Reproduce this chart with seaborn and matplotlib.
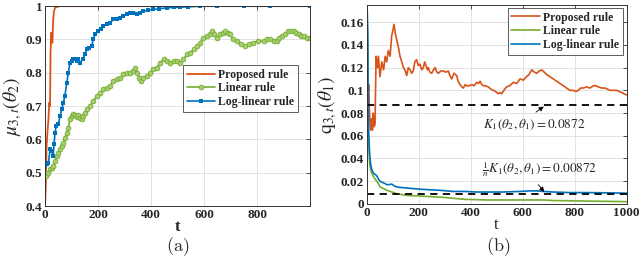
import matplotlib
matplotlib.use("Agg")
from matplotlib import pyplot as plt
import numpy as np
import pandas as pd
import seaborn as sns

# ---- panel (a): mu_{3,t}(theta_2) ----
t_prop_a = [0, 3, 6, 10, 13, 16, 19, 21, 23, 25,
            28, 31, 34, 38, 45, 57, 80, 150, 300, 600, 999]
prop_a = [0.40, 0.46, 0.58, 0.63, 0.66, 0.71, 0.70, 0.86, 0.92, 0.90,
          0.89, 0.96, 0.985, 0.995, 0.998, 1.0, 1.0, 1.0, 1.0, 1.0, 1.0]

t_lin_a = [0, 5, 10, 18, 25, 31, 38, 44, 50, 57,
           63, 69, 75, 82, 88, 94, 100, 107, 114, 120,
           126, 132, 139, 145, 152, 160, 170, 182, 195, 208,
           220, 233, 245, 258, 270, 283, 296, 308, 320, 330,
           340, 348, 355, 362, 370, 384, 396, 409, 422, 434,
           447, 460, 472, 485, 497, 509, 522, 535, 547, 560,
           572, 585, 597, 610, 622, 629, 639, 648, 660, 672,
           679, 690, 698, 710, 723, 738, 755, 770, 786, 805,
           824, 838, 849, 862, 874, 883, 893, 905, 918, 928,
           937, 946, 956, 965, 975, 987, 999]
lin_a = [0.50, 0.49, 0.50, 0.51, 0.515, 0.52, 0.535, 0.55, 0.56, 0.57,
         0.58, 0.59, 0.605, 0.62, 0.635, 0.66, 0.67, 0.675, 0.672, 0.668,
         0.672, 0.665, 0.662, 0.67, 0.68, 0.69, 0.70, 0.715, 0.73, 0.74,
         0.75, 0.755, 0.76, 0.775, 0.78, 0.785, 0.795, 0.80, 0.80, 0.805,
         0.815, 0.80, 0.785, 0.775, 0.785, 0.79, 0.80, 0.81, 0.815, 0.83,
         0.84, 0.835, 0.83, 0.835, 0.835, 0.83, 0.84, 0.855, 0.86, 0.87,
         0.88, 0.89, 0.905, 0.91, 0.915, 0.925, 0.915, 0.905, 0.915, 0.92,
         0.925, 0.92, 0.915, 0.90, 0.895, 0.885, 0.88, 0.885, 0.89, 0.895,
         0.895, 0.90, 0.90, 0.895, 0.895, 0.905, 0.91, 0.915, 0.925, 0.925,
         0.925, 0.92, 0.915, 0.91, 0.91, 0.905, 0.905]

t_log_a = [0, 6, 13, 19, 25, 31, 34, 38, 42, 50,
           57, 63, 69, 75, 82, 88, 94, 100, 107, 113,
           120, 126, 132, 142, 150, 157, 166, 176, 182, 189,
           201, 210, 220, 233, 245, 258, 270, 283, 296, 308,
           320, 333, 346, 358, 371, 390, 409, 430, 459, 485,
           509, 540, 585, 650, 750, 850, 999]
log_a = [0.52, 0.525, 0.53, 0.57, 0.565, 0.55, 0.585, 0.62, 0.64, 0.645,
         0.67, 0.69, 0.71, 0.73, 0.77, 0.80, 0.83, 0.835, 0.84, 0.84,
         0.835, 0.84, 0.83, 0.84, 0.855, 0.87, 0.875, 0.88, 0.90, 0.915,
         0.925, 0.93, 0.94, 0.945, 0.95, 0.96, 0.962, 0.965, 0.97, 0.975,
         0.978, 0.98, 0.975, 0.98, 0.985, 0.988, 0.99, 0.992, 0.995, 0.996,
         0.997, 0.998, 1.0, 1.0, 1.0, 1.0, 1.0]

# ---- panel (b): q_{3,t}(theta_1) ----
t_prop_b = [0, 4, 8, 10, 13, 16, 19, 22, 25, 28,
            32, 36, 41, 45, 51, 58, 65, 71, 77, 83,
            90, 96, 101, 105, 110, 115, 122, 128, 135, 141,
            147, 154, 160, 167, 173, 179, 185, 192, 198, 205,
            212, 218, 223, 228, 233, 237, 243, 250, 257, 263,
            270, 276, 285, 295, 305, 314, 320, 327, 336, 346,
            352, 359, 366, 372, 379, 385, 395, 404, 414, 423,
            430, 436, 443, 449, 458, 468, 478, 487, 496, 506,
            512, 519, 528, 538, 550, 564, 577, 590, 603, 615,
            625, 635, 645, 654, 664, 673, 683, 692, 705, 718,
            731, 744, 757, 769, 782, 795, 805, 814, 824, 833,
            846, 859, 866, 872, 882, 891, 904, 917, 927, 936,
            949, 962, 972, 981, 990, 1000]
prop_b = [0.10, 0.095, 0.105, 0.085, 0.07, 0.065, 0.075, 0.065, 0.08, 0.068,
          0.07, 0.13, 0.12, 0.13, 0.112, 0.125, 0.118, 0.13, 0.125, 0.135,
          0.13, 0.148, 0.153, 0.158, 0.15, 0.145, 0.138, 0.13, 0.125, 0.12,
          0.118, 0.113, 0.12, 0.118, 0.115, 0.117, 0.125, 0.127, 0.122, 0.123,
          0.118, 0.12, 0.125, 0.122, 0.118, 0.12, 0.116, 0.115, 0.118, 0.12,
          0.116, 0.115, 0.117, 0.117, 0.116, 0.117, 0.113, 0.11, 0.115, 0.113,
          0.108, 0.105, 0.103, 0.102, 0.105, 0.104, 0.104, 0.105, 0.104, 0.107,
          0.106, 0.108, 0.105, 0.104, 0.104, 0.103, 0.101, 0.10, 0.099, 0.097,
          0.098, 0.097, 0.10, 0.103, 0.104, 0.107, 0.106, 0.11, 0.109, 0.112,
          0.114, 0.118, 0.116, 0.115, 0.117, 0.118, 0.116, 0.114, 0.112, 0.11,
          0.108, 0.106, 0.104, 0.102, 0.10, 0.10, 0.099, 0.10, 0.102, 0.102,
          0.103, 0.102, 0.103, 0.104, 0.104, 0.103, 0.102, 0.102, 0.101, 0.10,
          0.10, 0.10, 0.099, 0.098, 0.097, 0.096]

t_b = [0, 2, 4, 6, 8, 10, 12, 15, 20, 26,
       32, 38, 45, 51, 60, 70, 77, 85, 96, 105,
       115, 130, 154, 180, 205, 240, 282, 308, 333, 380,
       420, 462, 520, 590, 630, 654, 680, 718, 780, 846,
       920, 1000]
log_b = [0.18, 0.17, 0.15, 0.08, 0.06, 0.05, 0.042, 0.035, 0.03, 0.027,
         0.026, 0.025, 0.022, 0.02, 0.019, 0.018, 0.017, 0.017, 0.0175, 0.016,
         0.015, 0.0145, 0.014, 0.0135, 0.013, 0.0125, 0.012, 0.0115, 0.011, 0.011,
         0.0105, 0.0105, 0.0105, 0.011, 0.0115, 0.0115, 0.011, 0.0105, 0.010, 0.010,
         0.0098, 0.0095]
lin_b = [0.18, 0.16, 0.14, 0.07, 0.05, 0.04, 0.034, 0.03, 0.027, 0.024,
         0.022, 0.02, 0.018, 0.015, 0.014, 0.013, 0.012, 0.0115, 0.0105, 0.01,
         0.009, 0.0085, 0.0075, 0.0072, 0.007, 0.0065, 0.006, 0.0055, 0.005, 0.004,
         0.0038, 0.0035, 0.0035, 0.0035, 0.0035, 0.0035, 0.0035, 0.003, 0.0028, 0.0025,
         0.0023, 0.002]

k_bound = 0.0872
k_bound_n = 0.00872

c_prop, c_lin, c_log = "#D95319", "#77AC30", "#0072BD"

sns.set_theme(style="whitegrid")
plt.rcParams["font.family"] = ["Liberation Serif", "DejaVu Serif"]
plt.rcParams["mathtext.fontset"] = "stix"
plt.rcParams["xtick.direction"] = "in"
plt.rcParams["ytick.direction"] = "in"

fig = plt.figure(figsize=(6.4, 2.68), dpi=100)
ax1 = fig.add_axes([0.0703, 0.231, 0.414, 0.746])
ax2 = fig.add_axes([0.573, 0.239, 0.406, 0.742])


def style_axes(ax):
    ax.grid(True, color="#dddddd", linewidth=0.6)
    for s in ax.spines.values():
        s.set_color("#333333")
        s.set_linewidth(0.7)
    ax.tick_params(axis="both", length=3, width=0.6, color="#333333",
                   labelsize=9.5, pad=2, top=True, right=True)
    for lab in ax.get_xticklabels() + ax.get_yticklabels():
        lab.set_fontweight("bold")


# panel (a)
sns.lineplot(x=t_prop_a, y=prop_a, ax=ax1, color=c_prop, lw=1.3,
             estimator=None, label="Proposed rule")
sns.lineplot(x=t_lin_a, y=lin_a, ax=ax1, color=c_lin, lw=1.2, marker="o",
             markersize=3.4, markeredgewidth=0.6, markerfacecolor="#a6cf72",
             markeredgecolor=c_lin, estimator=None, label="Linear rule")
sns.lineplot(x=t_log_a, y=log_a, ax=ax1, color=c_log, lw=1.2, marker="s",
             markersize=2.4, markeredgewidth=0, estimator=None,
             label="Log-linear rule")
ax1.set_xlim(0, 999)
ax1.set_ylim(0.4, 1.0)
ax1.set_xticks([0, 200, 400, 600, 800])
ax1.set_yticks([0.4, 0.5, 0.6, 0.7, 0.8, 0.9, 1.0])
ax1.set_yticklabels(["0.4", "0.5", "0.6", "0.7", "0.8", "0.9", "1"])
ax1.set_xlabel("t", fontsize=12, fontweight="bold", labelpad=-1)
ax1.set_ylabel(r"$\mu_{3,t}(\theta_2)$", fontsize=14, labelpad=1)
style_axes(ax1)
leg1 = ax1.legend(loc="upper right", bbox_to_anchor=(0.955, 0.705),
                  prop={"weight": "bold", "size": 8.5}, frameon=True,
                  fancybox=False, borderpad=0.3, labelspacing=0.15,
                  handlelength=2.4, handletextpad=0.3, borderaxespad=0)
leg1.get_frame().set_edgecolor("#333333")
leg1.get_frame().set_linewidth(0.7)

# panel (b)
sns.lineplot(x=t_prop_b, y=prop_b, ax=ax2, color=c_prop, lw=1.2,
             estimator=None, label="Proposed rule")
sns.lineplot(x=t_b, y=lin_b, ax=ax2, color=c_lin, lw=1.2,
             estimator=None, label="Linear rule")
sns.lineplot(x=t_b, y=log_b, ax=ax2, color=c_log, lw=1.2,
             estimator=None, label="Log-linear rule")
ax2.axhline(k_bound, color="black", ls=(0, (4, 3)), lw=1.3)
ax2.axhline(k_bound_n, color="black", ls=(0, (4, 3)), lw=1.3)
ax2.set_xlim(0, 1000)
ax2.set_ylim(0, 0.175)
ax2.set_xticks([0, 200, 400, 600, 800, 1000])
ax2.set_yticks([0, 0.02, 0.04, 0.06, 0.08, 0.1, 0.12, 0.14, 0.16])
ax2.set_yticklabels(["0", "0.02", "0.04", "0.06", "0.08", "0.1", "0.12",
                     "0.14", "0.16"])
ax2.set_xlabel("t", fontsize=12, labelpad=-1)
ax2.set_ylabel(r"$\mathrm{q}_{3,t}(\theta_1)$", fontsize=14, labelpad=1)
style_axes(ax2)
leg2 = ax2.legend(loc="upper right", bbox_to_anchor=(0.985, 0.985),
                  prop={"weight": "bold", "size": 8.5}, frameon=True,
                  fancybox=False, borderpad=0.3, labelspacing=0.15,
                  handlelength=2.4, handletextpad=0.3, borderaxespad=0)
leg2.get_frame().set_edgecolor("#333333")
leg2.get_frame().set_linewidth(0.7)

ax2.annotate(r"$K_1(\theta_2,\theta_1)=0.0872$", xy=(690, k_bound),
             xytext=(645, 0.070), fontsize=9.5, ha="center", va="center",
             arrowprops=dict(arrowstyle="-|>", color="black", lw=0.6,
                             mutation_scale=7, relpos=(0.45, 1.0)))
ax2.annotate(r"$\frac{1}{n}K_1(\theta_2,\theta_1)=0.00872$", xy=(690, k_bound_n),
             xytext=(665, 0.030), fontsize=9.5, ha="center", va="center",
             arrowprops=dict(arrowstyle="-|>", color="black", lw=0.6,
                             mutation_scale=7, relpos=(0.45, 0.0)))

fig.text(0.278, 0.08, r"$\mathrm{(a)}$", fontsize=13, ha="center",
         va="center", math_fontfamily="cm")
fig.text(0.778, 0.08, r"$\mathrm{(b)}$", fontsize=13, ha="center",
         va="center", math_fontfamily="cm")

fig.savefig("out.png", dpi=100)
